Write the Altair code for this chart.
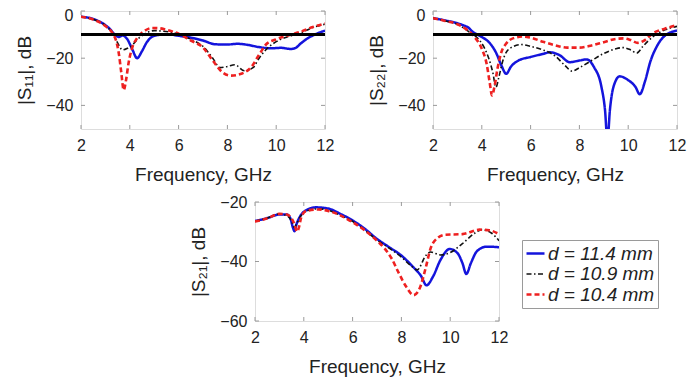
import altair as alt
import pandas as pd

FONT = "Liberation Sans"
labels = ["d = 11.4 mm", "d = 10.9 mm", "d = 10.4 mm"]
colors = ["#1414dc", "#111111", "#ee2020"]
dashes = [[1, 0], [5, 2.5, 1.5, 2.5], [5, 3]]
widths = [2.5, 1.6, 2.6]

x_ticks = [2, 4, 6, 8, 10, 12]

# ---- |S11| ----
s11_blue_f = [2.0, 2.5, 3.0, 3.2, 3.4, 3.55, 3.7, 3.9, 4.1, 4.3, 4.5, 4.7, 4.9, 5.1, 5.5, 6.0, 6.6, 7.0, 7.5, 8.0, 8.4, 8.8, 9.3, 9.8, 10.2, 10.6, 10.8, 11.0, 11.3, 11.6, 12.0]
s11_blue_db = [-2.4, -3.4, -6.0, -7.8, -10.2, -11.0, -10.4, -12.0, -16.2, -20.0, -17.0, -13.2, -11.0, -10.3, -9.8, -10.5, -11.5, -12.5, -14.1, -14.2, -13.9, -14.3, -15.3, -15.8, -15.6, -16.1, -15.6, -13.8, -11.5, -9.9, -8.3]
s11_black_f = [2.0, 2.5, 3.0, 3.3, 3.5, 3.7, 3.9, 4.1, 4.3, 4.6, 5.0, 5.3, 5.7, 6.0, 6.5, 7.0, 7.4, 7.7, 8.0, 8.3, 8.7, 9.05, 9.3, 9.6, 10.0, 10.5, 11.0, 11.5, 12.0]
s11_black_db = [-2.4, -3.5, -6.2, -9.5, -13.5, -16.5, -15.8, -14.5, -12.2, -9.8, -8.3, -8.5, -9.0, -9.8, -12.0, -15.0, -20.0, -24.0, -23.5, -22.8, -25.3, -24.0, -20.0, -16.2, -13.0, -10.8, -9.3, -7.0, -5.6]
s11_red_f = [2.0, 2.5, 3.0, 3.3, 3.45, 3.55, 3.65, 3.75, 3.85, 3.95, 4.1, 4.3, 4.6, 4.9, 5.2, 5.5, 6.0, 6.5, 7.0, 7.4, 7.8, 8.15, 8.6, 9.0, 9.3, 9.6, 10.0, 10.5, 11.0, 11.5, 12.0]
s11_red_db = [-2.4, -3.6, -6.4, -9.5, -13.0, -18.0, -26.0, -33.5, -29.0, -22.0, -15.5, -11.5, -8.5, -7.2, -7.3, -8.0, -9.6, -12.5, -15.5, -21.0, -26.0, -27.4, -26.5, -23.5, -18.5, -14.0, -12.0, -10.3, -8.8, -6.8, -5.3]

# ---- |S22| ----
s22_blue_f = [2.0, 2.5, 3.0, 3.3, 3.45, 3.6, 3.8, 4.0, 4.3, 4.6, 4.8, 5.0, 5.2, 5.5, 6.0, 6.5, 6.8, 7.2, 7.6, 8.0, 8.3, 8.6, 8.9, 9.05, 9.15, 9.25, 9.4, 9.65, 10.0, 10.3, 10.47, 10.7, 10.9, 11.2, 11.5, 12.0]
s22_blue_db = [-3.0, -4.0, -5.2, -6.3, -7.0, -8.6, -9.9, -11.0, -13.3, -18.0, -23.0, -26.6, -23.5, -21.0, -19.5, -18.2, -17.5, -18.8, -21.7, -21.0, -20.5, -23.8, -32.0, -42.0, -55.0, -42.0, -32.0, -27.7, -29.3, -32.2, -35.3, -29.4, -21.7, -14.5, -10.5, -8.3]
s22_black_f = [2.0, 2.5, 3.0, 3.5, 3.8, 4.1, 4.3, 4.45, 4.58, 4.7, 4.85, 5.0, 5.3, 5.6, 6.0, 6.5, 7.0, 7.4, 7.7, 8.0, 8.5, 9.0, 9.5, 9.8, 10.1, 10.35, 10.6, 11.0, 11.5, 12.0]
s22_black_db = [-3.0, -4.2, -5.6, -9.0, -11.2, -15.5, -20.5, -26.0, -32.3, -28.0, -21.5, -17.5, -15.0, -14.2, -15.0, -16.5, -19.0, -23.0, -25.5, -24.0, -21.0, -18.0, -16.0, -15.5, -16.5, -17.8, -15.0, -11.0, -8.0, -6.5]
s22_red_f = [2.0, 2.5, 3.0, 3.4, 3.7, 4.0, 4.2, 4.32, 4.42, 4.52, 4.65, 4.8, 5.0, 5.3, 5.7, 6.0, 6.5, 7.0, 7.5, 8.0, 8.5, 9.0, 9.5, 9.8, 10.1, 10.4, 10.7, 11.0, 11.5, 12.0]
s22_red_db = [-3.0, -4.2, -5.6, -8.0, -11.0, -16.0, -22.5, -30.0, -35.8, -32.0, -24.0, -17.5, -13.8, -11.5, -10.8, -11.3, -13.0, -14.5, -15.5, -15.5, -14.6, -13.2, -11.8, -11.6, -12.3, -13.5, -12.2, -9.5, -7.5, -6.0]

# ---- |S21| ----
s21_blue_f = [2.0, 2.5, 3.0, 3.3, 3.45, 3.55, 3.62, 3.7, 3.85, 4.0, 4.5, 5.0, 5.5, 6.0, 6.5, 7.0, 7.5, 8.0, 8.5, 8.8, 9.03, 9.3, 9.6, 9.98, 10.3, 10.5, 10.66, 10.85, 11.1, 11.5, 12.0]
s21_blue_db = [-26.4, -25.4, -24.2, -24.2, -25.5, -28.5, -29.8, -27.5, -24.8, -23.3, -21.8, -22.2, -24.0, -26.2, -29.0, -32.4, -35.2, -38.0, -42.0, -44.8, -48.0, -45.0, -39.5, -35.8, -37.2, -40.5, -44.2, -40.5, -36.5, -35.0, -35.2]
s21_black_f = [2.0, 2.5, 3.0, 3.35, 3.5, 3.6, 3.7, 3.85, 4.2, 4.6, 5.0, 5.5, 6.0, 6.5, 7.0, 7.5, 8.0, 8.4, 8.65, 9.0, 9.2, 9.6, 10.0, 10.5, 11.0, 11.3, 11.7, 12.0]
s21_black_db = [-26.5, -25.4, -24.0, -24.8, -26.5, -28.5, -27.5, -25.0, -22.8, -22.3, -22.8, -24.5, -26.5, -29.5, -32.8, -35.5, -38.5, -41.5, -42.8, -38.0, -36.8, -37.8, -37.0, -34.0, -30.5, -29.3, -30.5, -33.0]
s21_red_f = [2.0, 2.5, 3.0, 3.3, 3.5, 3.62, 3.72, 3.8, 3.9, 4.1, 4.6, 5.0, 5.5, 6.0, 6.5, 7.0, 7.3, 7.6, 7.9, 8.2, 8.5, 8.75, 9.0, 9.2, 9.5, 9.8, 10.5, 11.2, 11.6, 12.0]
s21_red_db = [-26.6, -25.5, -24.0, -24.2, -25.5, -27.5, -30.0, -28.5, -25.0, -23.0, -22.5, -23.0, -24.5, -26.8, -29.5, -33.0, -35.5, -39.0, -44.0, -48.5, -51.3, -49.0, -42.0, -35.5, -32.0, -31.0, -30.8, -29.3, -29.5, -30.8]

W, H = 244, 118
FRAME = "#9a9a9a"


def make_df(series):
    rows = []
    for lab, (fs, ds) in zip(labels, series):
        for f, d in zip(fs, ds):
            rows.append({"f": f, "db": d, "d": lab})
    return pd.DataFrame(rows)


def panel(series, ytitle, ydom, yticks, hline, legend, h, flush):
    df = make_df(series)
    xs = alt.X("f:Q", scale=alt.Scale(domain=[2, 12], nice=False),
               axis=alt.Axis(values=x_ticks, title="Frequency, GHz", grid=False, domain=False,
                             ticks=False, tickSize=0, labelPadding=8, titlePadding=12,
                             labelFlush=False,
                             labelFontSize=16, titleFontSize=19, labelFont=FONT, titleFont=FONT,
                             titleFontWeight="normal", labelColor="#222", titleColor="#222"))
    yaxis_kw = dict(values=yticks, title=ytitle, grid=False, domain=False,
                    ticks=False, tickSize=0, labelPadding=8, titlePadding=11,
                    labelFontSize=16, titleFontSize=19, labelFont=FONT, titleFont=FONT,
                    titleFontWeight="normal", labelColor="#222", titleColor="#222")
    if flush:
        yaxis_kw.update(labelFlush=True, labelFlushOffset=4)
    else:
        yaxis_kw.update(labelFlush=False)
    ys = alt.Y("db:Q", scale=alt.Scale(domain=ydom, nice=False), axis=alt.Axis(**yaxis_kw))
    color = alt.Color("d:N", scale=alt.Scale(domain=labels, range=colors), legend=legend, sort=labels)
    dash = alt.StrokeDash("d:N", scale=alt.Scale(type="ordinal", domain=labels, range=dashes),
                          legend=legend, sort=labels)
    sw = alt.StrokeWidth("d:N", scale=alt.Scale(type="ordinal", domain=labels, range=widths),
                         legend=legend, sort=labels)
    lines = alt.Chart(df).mark_line(clip=True, interpolate="monotone").encode(
        x=xs, y=ys, color=color, strokeDash=dash, strokeWidth=sw)
    layers = [lines]
    if hline:
        layers.append(alt.Chart(df).mark_rule(color="black", strokeWidth=1.5).encode(y=alt.datum(-10)))
    xt = pd.DataFrame({"v": x_ticks})
    yt = pd.DataFrame({"v": yticks})
    layers.append(alt.Chart(xt).mark_rule(color=FRAME).encode(x="v:Q", y=alt.value(h), y2=alt.value(h - 4)))
    layers.append(alt.Chart(xt).mark_rule(color=FRAME).encode(x="v:Q", y=alt.value(0), y2=alt.value(4)))
    layers.append(alt.Chart(yt).mark_rule(color=FRAME).encode(y="v:Q", x=alt.value(0), x2=alt.value(4)))
    layers.append(alt.Chart(yt).mark_rule(color=FRAME).encode(y="v:Q", x=alt.value(W), x2=alt.value(W - 4)))
    return alt.layer(*layers).properties(width=W, height=h)


leg = alt.Legend(title=None, orient="none", legendX=441, legendY=38, labelFontSize=19,
                 labelFontStyle="italic", labelFont=FONT, labelColor="#222", symbolType="stroke",
                 symbolSize=324, strokeColor=FRAME, padding=3, labelOffset=2, rowPadding=-2,
                 fillColor="white", labelLimit=0)

p1 = panel([(s11_blue_f, s11_blue_db), (s11_black_f, s11_black_db), (s11_red_f, s11_red_db)],
           "|S₁₁|, dB", [-50, 0], [-40, -20, 0], True, None, H, True)
p2 = panel([(s22_blue_f, s22_blue_db), (s22_black_f, s22_black_db), (s22_red_f, s22_red_db)],
           "|S₂₂|, dB", [-50, 0], [-40, -20, 0], True, None, H, True)
p3 = panel([(s21_blue_f, s21_blue_db), (s21_black_f, s21_black_db), (s21_red_f, s21_red_db)],
           "|S₂₁|, dB", [-60, -20], [-60, -40, -20], False, leg, 119, False)

spacer = alt.Chart(pd.DataFrame({"a": [0]})).mark_point(opacity=0).encode(
    x=alt.value(0), y=alt.value(0)).properties(width=108, height=10,
                                               view=alt.ViewBackground(strokeOpacity=0))

top = alt.hconcat(p1, p2, spacing=32)
bottom = alt.hconcat(spacer, p3, spacing=0)
chart = alt.vconcat(top, bottom, spacing=8).resolve_legend(
    color="independent", strokeDash="independent", strokeWidth="independent"
).properties(padding={"left": 7, "top": -2, "right": 0, "bottom": 0}).configure_view(
    stroke=FRAME, strokeWidth=1).configure(background="white")

chart.save("out.html", embed_options={"renderer": "svg", "actions": False})
